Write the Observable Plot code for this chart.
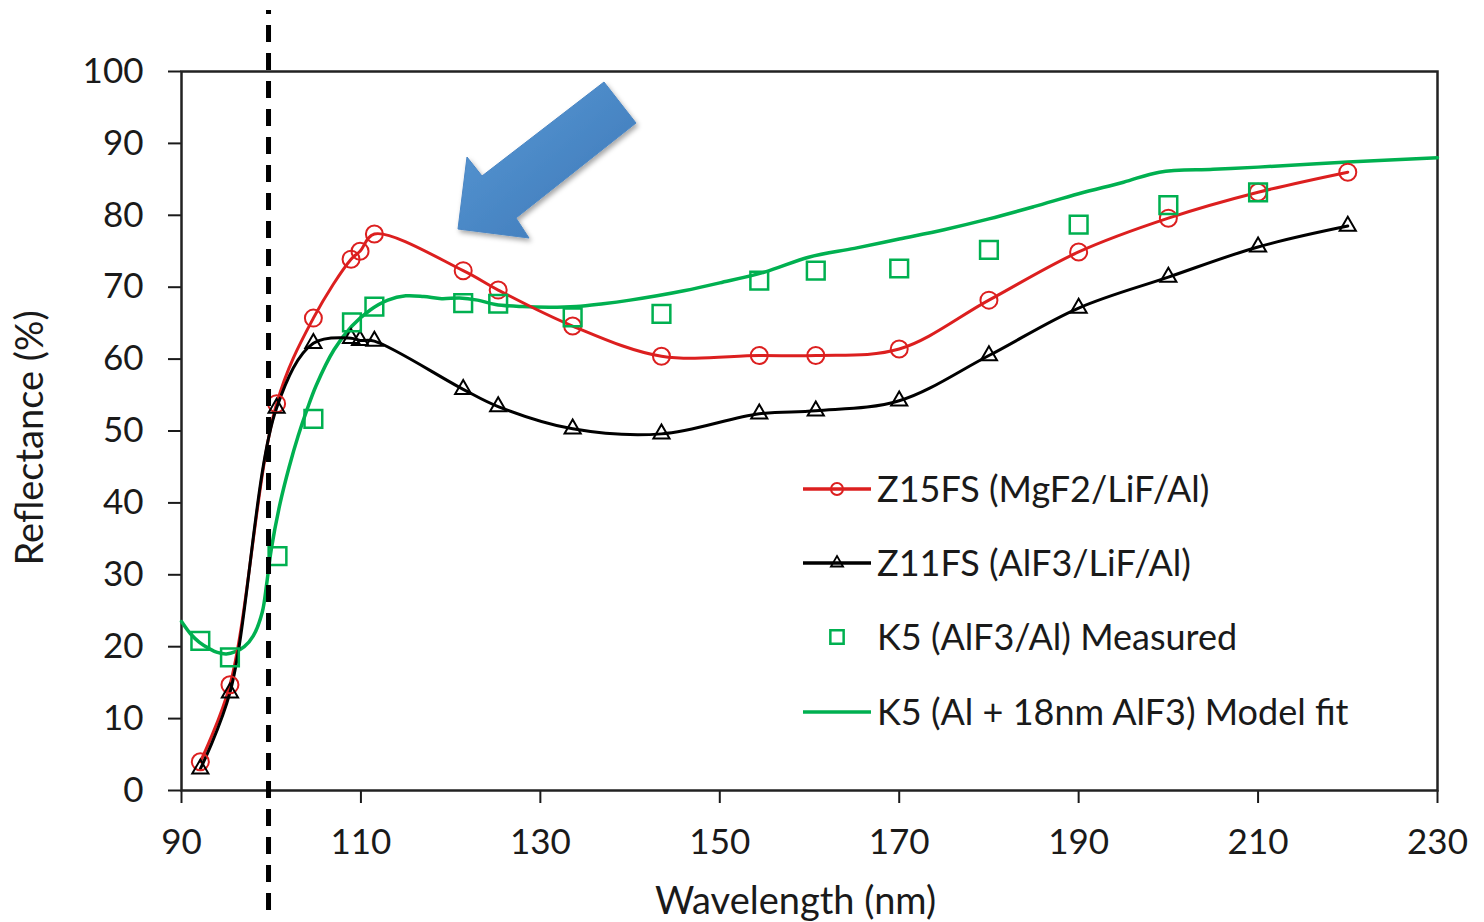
<!DOCTYPE html>
<html>
<head>
<meta charset="utf-8">
<script src="https://cdn.jsdelivr.net/npm/d3@7"></script>
<script src="https://cdn.jsdelivr.net/npm/@observablehq/plot@0.6"></script>
<style>
  html, body { margin: 0; padding: 0; background: #fff; }
  #wrap { position: relative; width: 1484px; height: 922px; }
  #overlay { position: absolute; left: 0; top: 0; pointer-events: none; }
</style>
</head>
<body>
<div id="wrap"></div>
<script>
// ---- data ----
const xTicks = [90, 110, 130, 150, 170, 190, 210, 230];
const yTicks = [0, 10, 20, 30, 40, 50, 60, 70, 80, 90, 100];

const measWl = [92.1, 95.4, 100.6, 104.7, 108.9, 109.9, 111.5, 121.4, 125.3, 133.6, 143.5, 154.4, 160.7, 170.0, 180.0, 190.0, 200.0, 210.0, 220.0];
const z15 = [4.0, 14.7, 53.8, 65.7, 73.9, 75.0, 77.4, 72.3, 69.6, 64.6, 60.4, 60.5, 60.5, 61.4, 68.2, 74.9, 79.6, 83.2, 86.0];
const z11 = [3.0, 13.6, 53.2, 62.2, 62.9, 62.6, 62.5, 55.8, 53.4, 50.3, 49.6, 52.4, 52.8, 54.2, 60.5, 67.1, 71.4, 75.6, 78.5];

const k5Wl = [92.1, 95.4, 100.7, 104.7, 109.0, 111.5, 121.4, 125.3, 133.6, 143.5, 154.4, 160.7, 170.0, 180.0, 190.0, 200.0, 210.0];
const k5 = [20.8, 18.5, 32.6, 51.7, 65.1, 67.3, 67.8, 67.7, 65.8, 66.3, 70.9, 72.3, 72.6, 75.2, 78.7, 81.4, 83.2];

const modelWl = [90, 91, 92, 93, 94, 95, 96, 97, 98, 99, 99.5, 100, 101, 102, 103, 104, 105, 107, 109, 111, 113, 115, 117, 119, 121, 123, 125, 128, 131, 134, 137, 140, 143, 146, 150, 155, 160, 165, 170, 175, 180, 185, 190, 195, 199, 205, 210, 220, 230];
const model = [23.5, 21.8, 20.6, 19.8, 19.2, 19.0, 19.3, 20.0, 21.5, 24.8, 28.8, 33.5, 40.0, 45.0, 49.3, 53.0, 56.3, 61.3, 64.6, 66.8, 68.2, 68.8, 68.7, 68.4, 68.5, 68.2, 67.6, 67.3, 67.2, 67.3, 67.7, 68.2, 68.8, 69.5, 70.6, 72.1, 74.2, 75.4, 76.7, 78.0, 79.5, 81.2, 83.0, 84.6, 86.0, 86.4, 86.7, 87.4, 88.0];

const cutoff = [99.7];

const seriesNames = ["Z15FS (MgF2/LiF/Al)", "Z11FS (AlF3/LiF/Al)", "K5 (AlF3/Al) Measured", "K5 (Al + 18nm AlF3) Model fit"];
const colors = { red: "#dc1f1f", black: "#000000", green: "#00b050" };

// ---- tables ----
const z15Data = measWl.map((x, i) => ({ x, y: z15[i] }));
const z11Data = measWl.map((x, i) => ({ x, y: z11[i] }));
const k5Data = k5Wl.map((x, i) => ({ x, y: k5[i] }));
const modelData = modelWl.map((x, i) => ({ x, y: model[i] }));

const font = "Lato, 'Open Sans', sans-serif";

const chart = Plot.plot({
  width: 1484,
  height: 922,
  marginLeft: 181,
  marginRight: 47,
  marginTop: 71,
  marginBottom: 132,
  style: { fontFamily: font, fontSize: "35px", color: "#1a1a1a", background: "#fff", overflow: "visible" },
  x: { domain: [90, 230] },
  y: { domain: [0, 100] },
  marks: [
    Plot.axisX({ ticks: xTicks, tickSize: 13, tickPadding: 26, tickFormat: d => d, label: null, strokeWidth: 2 }),
    Plot.axisY({ ticks: yTicks, tickSize: 13, tickPadding: 25, tickFormat: d => d, label: null, strokeWidth: 2 }),
    Plot.frame({ stroke: "#222", strokeWidth: 2.5 }),
    Plot.line(modelData, { x: "x", y: "y", stroke: colors.green, strokeWidth: 3.5, curve: "catmull-rom" }),
    Plot.line(z15Data, { x: "x", y: "y", stroke: colors.red, strokeWidth: 3, curve: "catmull-rom" }),
    Plot.line(z11Data, { x: "x", y: "y", stroke: colors.black, strokeWidth: 3, curve: "catmull-rom" }),
    Plot.dot(z15Data, { x: "x", y: "y", r: 8.5, stroke: colors.red, strokeWidth: 2, fill: "none", symbol: "circle" }),
    Plot.dot(z11Data, { x: "x", y: "y", r: 6, stroke: colors.black, strokeWidth: 2, fill: "none", symbol: "triangle" }),
    Plot.dot(k5Data, { x: "x", y: "y", r: 10, stroke: colors.green, strokeWidth: 2.5, fill: "none", symbol: "square" }),
    Plot.ruleX(cutoff, { y1: -16.7, y2: 108.5, stroke: "#000", strokeWidth: 5, strokeDasharray: "17,11" }),
    Plot.text(["Reflectance (%)"], { frameAnchor: "left", textAnchor: "middle", rotate: -90, dx: -151, dy: 7, fontSize: 38, fill: "#1a1a1a" }),
    Plot.text(["Wavelength (nm)"], { frameAnchor: "bottom", textAnchor: "middle", dy: 123, dx: -14, fontSize: 38, fill: "#1a1a1a" })
  ]
});

const wrap = document.getElementById("wrap");
wrap.appendChild(chart);

// ---- overlay: arrow annotation and in-plot legend ----
const ov = d3.select(wrap).append("svg").attr("id", "overlay").attr("width", 1484).attr("height", 922);
const defs = ov.append("defs");
const grad = defs.append("linearGradient").attr("id", "arrowGrad").attr("x1", "0%").attr("y1", "0%").attr("x2", "100%").attr("y2", "100%");
grad.append("stop").attr("offset", "0%").attr("stop-color", "#5b9ad6");
grad.append("stop").attr("offset", "100%").attr("stop-color", "#3a76b6");
const filt = defs.append("filter").attr("id", "shadow").attr("x", "-20%").attr("y", "-20%").attr("width", "150%").attr("height", "150%");
filt.append("feDropShadow").attr("dx", 2).attr("dy", 3).attr("stdDeviation", 2.5).attr("flood-color", "#000").attr("flood-opacity", 0.35);

const arrowPts = [[604, 82], [636, 123], [516, 218], [529, 238], [458, 229], [467, 157], [482, 176]];
ov.append("polygon")
  .attr("points", arrowPts.map(p => p.join(",")).join(" "))
  .attr("fill", "url(#arrowGrad)")
  .attr("stroke", "#4a86c4").attr("stroke-width", 1)
  .attr("filter", "url(#shadow)");

// legend
const legRows = [
  { name: seriesNames[0], color: colors.red, line: true, sym: d3.symbolCircle, size: Math.PI * 6 * 6, sw: 2 },
  { name: seriesNames[1], color: colors.black, line: true, sym: d3.symbolTriangle, size: Math.PI * 4.5 * 4.5, sw: 1.8 },
  { name: seriesNames[2], color: colors.green, line: false, sym: d3.symbolSquare, size: Math.PI * 7.5 * 7.5, sw: 2.5 },
  { name: seriesNames[3], color: colors.green, line: true, sym: null }
];
const legY = [489, 563, 637, 712];
legRows.forEach((r, i) => {
  const g = ov.append("g").attr("transform", `translate(0,${legY[i]})`);
  if (r.line) g.append("line").attr("x1", 803).attr("x2", 871).attr("y1", 0).attr("y2", 0).attr("stroke", r.color).attr("stroke-width", 3.5);
  if (r.sym) g.append("path").attr("d", d3.symbol(r.sym, r.size)()).attr("transform", "translate(837,0)")
    .attr("fill", "none").attr("stroke", r.color).attr("stroke-width", r.sw);
  g.append("text").attr("x", 877).attr("y", 0).attr("dy", "0.35em")
    .attr("font-family", font).attr("font-size", 36).attr("fill", "#1a1a1a").text(r.name);
});
</script>
</body>
</html>
